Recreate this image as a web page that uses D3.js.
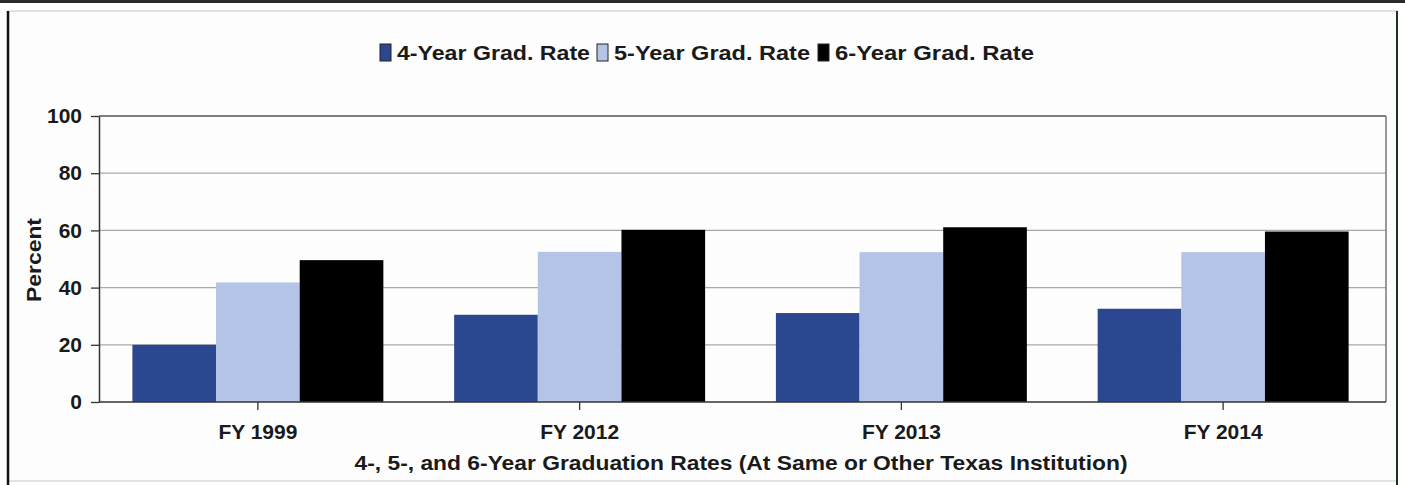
<!DOCTYPE html>
<html>
<head>
<meta charset="utf-8">
<script src="https://cdn.jsdelivr.net/npm/d3@7"></script>
<style>
  body { margin: 0; background: #fff; }
  text { font-family: "Liberation Sans", Arial, sans-serif; font-weight: bold; fill: #1a1a1a; }
</style>
</head>
<body>
<div id="chart"></div>
<script>
// graduation rates
var years = ["FY 1999", "FY 2012", "FY 2013", "FY 2014"];
var seriesNames = ["4-Year Grad. Rate", "5-Year Grad. Rate", "6-Year Grad. Rate"];
var rate4 = [20, 30.5, 31.1, 32.6];
var rate5 = [41.8, 52.5, 52.4, 52.4];
var rate6 = [49.6, 60.2, 61.1, 59.6];
var seriesColors = ["#2b4790", "#b4c4e7", "#000000"];
var yTicks = [0, 20, 40, 60, 80, 100];

var w = 1405, h = 485;
var plotL = 99, plotR = 1386, plotT = 116, plotB = 402;

var svg = d3.select("#chart").append("svg")
  .attr("width", w).attr("height", h);

// outer frame
svg.append("rect").attr("x", 0).attr("y", 0).attr("width", w).attr("height", 3).attr("fill", "#2a2a2a");
svg.append("rect").attr("x", 8).attr("y", 11).attr("width", 1389).attr("height", 470)
  .attr("fill", "#fdfdfd").attr("stroke", "#c8c8c8").attr("stroke-width", 1);
svg.append("line").attr("x1", 8).attr("x2", 8).attr("y1", 11).attr("y2", h)
  .attr("stroke", "#111").attr("stroke-width", 2.5);
svg.append("line").attr("x1", 1397).attr("x2", 1397).attr("y1", 11).attr("y2", h)
  .attr("stroke", "#1d3320").attr("stroke-width", 2);

var y = d3.scaleLinear().domain([0, 100]).range([plotB, plotT]);
var x0 = d3.scaleBand().domain(years).range([97, 1384]).paddingInner(0.22).paddingOuter(0.11);
var x1 = d3.scaleBand().domain(seriesNames).range([0, x0.bandwidth()]);

// gridlines
svg.append("g").selectAll("line")
  .data(yTicks.filter(function(d) { return d > 0 && d < 100; }))
  .enter().append("line")
  .attr("x1", plotL).attr("x2", plotR)
  .attr("y1", function(d) { return y(d); }).attr("y2", function(d) { return y(d); })
  .attr("stroke", "#a9a9a9").attr("stroke-width", 1.3);

// bars
var rows = years.map(function(yr, i) {
  return { year: yr, values: [rate4[i], rate5[i], rate6[i]] };
});
var groups = svg.append("g").selectAll("g")
  .data(rows).enter().append("g")
  .attr("transform", function(d) { return "translate(" + x0(d.year) + ",0)"; });
groups.selectAll("rect")
  .data(function(d) { return d.values.map(function(v, j) { return { name: seriesNames[j], value: v, c: seriesColors[j] }; }); })
  .enter().append("rect")
  .attr("x", function(d) { return x1(d.name); })
  .attr("y", function(d) { return y(d.value); })
  .attr("width", x1.bandwidth())
  .attr("height", function(d) { return plotB - y(d.value); })
  .attr("fill", function(d) { return d.c; });

// plot border
svg.append("line").attr("x1", plotL).attr("x2", plotR).attr("y1", plotT).attr("y2", plotT)
  .attr("stroke", "#555").attr("stroke-width", 1.5);
svg.append("line").attr("x1", plotR).attr("x2", plotR).attr("y1", plotT).attr("y2", plotB)
  .attr("stroke", "#777").attr("stroke-width", 1.5);

// y axis
var yAxis = svg.append("g").attr("transform", "translate(" + plotL + ",0)")
  .call(d3.axisLeft(y).tickValues(yTicks).tickSize(8).tickPadding(9).tickSizeOuter(0));
yAxis.select(".domain").attr("stroke", "#333").attr("stroke-width", 1.5);
yAxis.selectAll(".tick line").attr("stroke", "#333").attr("stroke-width", 1.3);
yAxis.selectAll("text").attr("font-size", 21).attr("font-family", null).attr("fill", "#1a1a1a");

// x axis
var xAxis = svg.append("g").attr("transform", "translate(0," + plotB + ")")
  .call(d3.axisBottom(x0).tickSize(8).tickSizeOuter(0));
xAxis.select(".domain").attr("stroke", "#333").attr("stroke-width", 1.5).attr("d", "M" + plotL + ",0H" + plotR);
xAxis.selectAll(".tick line").attr("stroke", "#333").attr("stroke-width", 1.3);
xAxis.selectAll("text").attr("font-size", 21).attr("font-family", null).attr("fill", "#1a1a1a")
  .attr("y", 37).attr("dy", null)
  .attr("textLength", 79).attr("lengthAdjust", "spacingAndGlyphs");

// axis titles
svg.append("text")
  .attr("transform", "translate(41,260) rotate(-90)")
  .attr("text-anchor", "middle")
  .attr("font-size", 21)
  .attr("textLength", 84).attr("lengthAdjust", "spacingAndGlyphs")
  .text("Percent");

svg.append("text")
  .attr("x", 741).attr("y", 470)
  .attr("text-anchor", "middle")
  .attr("font-size", 21)
  .attr("textLength", 773).attr("lengthAdjust", "spacingAndGlyphs")
  .text("4-, 5-, and 6-Year Graduation Rates (At Same or Other Texas Institution)");

// legend
var legendX = [380, 597, 818];
var legend = svg.append("g").selectAll("g")
  .data(seriesNames).enter().append("g")
  .attr("transform", function(d, i) { return "translate(" + legendX[i] + ",44)"; });
legend.append("rect")
  .attr("width", 11).attr("height", 17)
  .attr("fill", function(d, i) { return seriesColors[i]; })
  .attr("stroke", "#222").attr("stroke-width", 1);
legend.append("text")
  .attr("x", 17).attr("y", 16)
  .attr("font-size", 20)
  .attr("textLength", function(d, i) { return [193, 196, 199][i]; })
  .attr("lengthAdjust", "spacingAndGlyphs")
  .text(function(d) { return d; });
</script>
</body>
</html>
